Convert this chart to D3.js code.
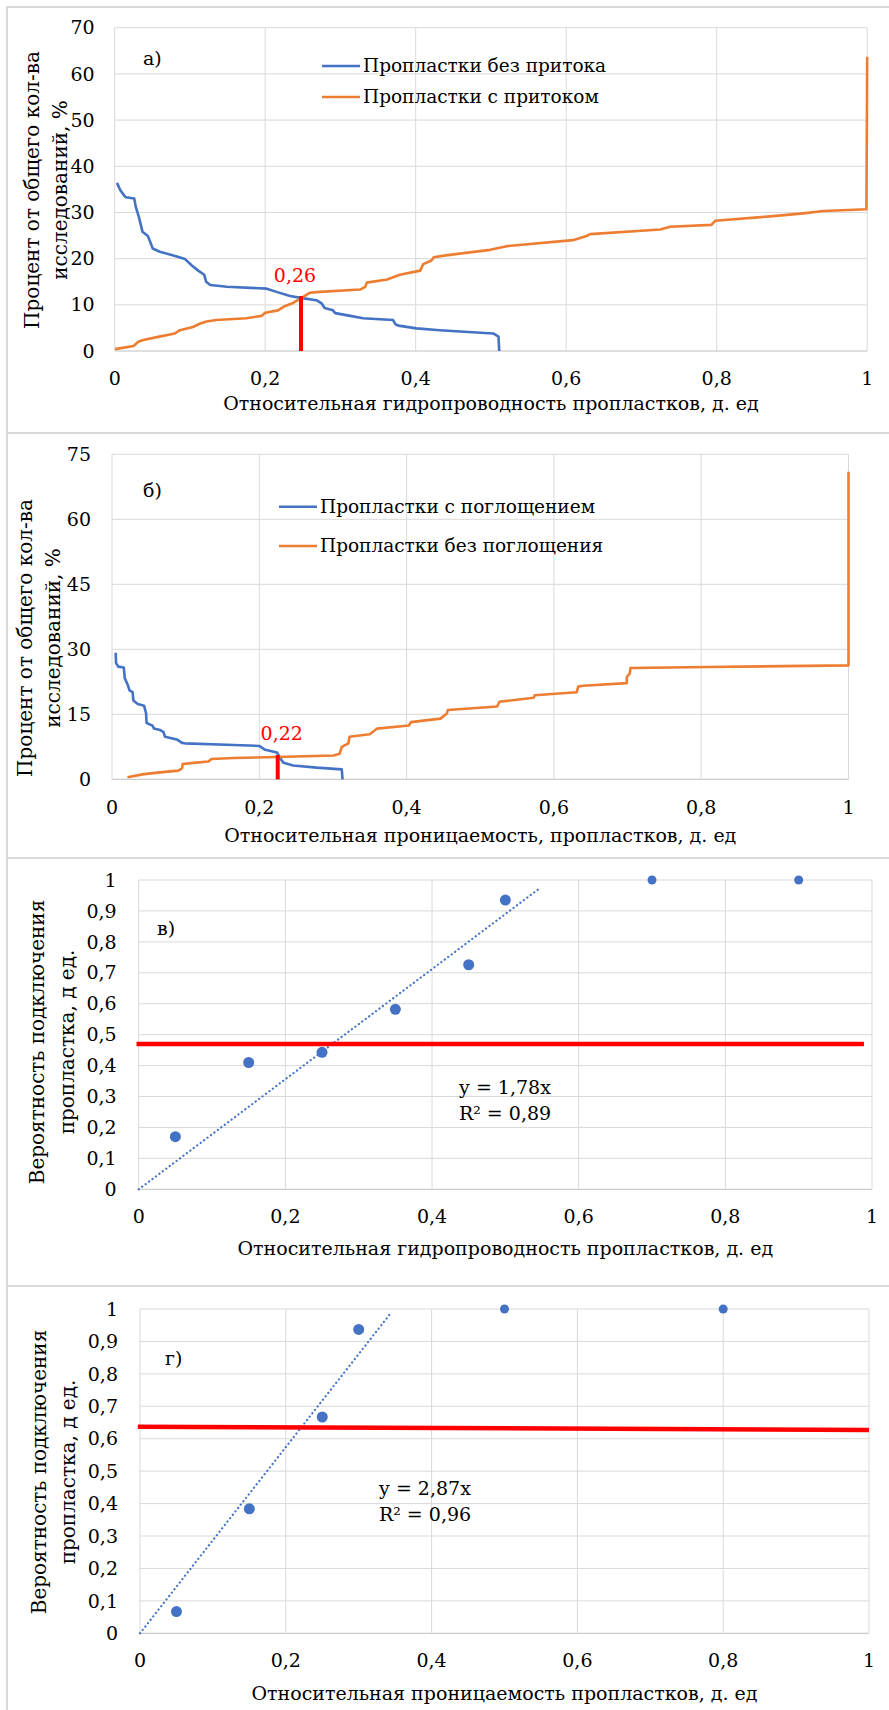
<!DOCTYPE html>
<html>
<head>
<meta charset="utf-8">
<script src="https://cdn.jsdelivr.net/npm/d3@7"></script>
<style>
  body { margin: 0; background: #fff; }
</style>
</head>
<body>
<svg id="chart" width="889" height="1710"></svg>
<script>
// ---- data ----
// panel а) : hydroconductivity distributions
const aNoFlowX = [0.003, 0.0075, 0.012, 0.0145, 0.026, 0.028, 0.032, 0.037, 0.044, 0.047, 0.0505, 0.060, 0.078, 0.0935, 0.1025, 0.111, 0.119, 0.1215, 0.127, 0.149, 0.202, 0.215, 0.233, 0.251, 0.268, 0.275, 0.279, 0.290, 0.293, 0.313, 0.330, 0.370, 0.373, 0.377, 0.401, 0.432, 0.503, 0.510, 0.511];
const aNoFlowY = [36.4, 34.8, 33.8, 33.3, 33.0, 31.2, 29.1, 25.8, 24.9, 23.7, 22.2, 21.5, 20.7, 19.9, 18.5, 17.4, 16.5, 15.0, 14.3, 13.9, 13.5, 12.8, 11.9, 11.4, 11.0, 10.3, 9.3, 8.8, 8.2, 7.6, 7.1, 6.7, 5.8, 5.5, 4.9, 4.5, 3.8, 3.1, 0];
const aFlowX = [0.0005, 0.025, 0.0315, 0.038, 0.056, 0.080, 0.0867, 0.104, 0.113, 0.122, 0.135, 0.175, 0.195, 0.200, 0.217, 0.226, 0.237, 0.2485, 0.259, 0.273, 0.326, 0.333, 0.335, 0.362, 0.379, 0.406, 0.410, 0.421, 0.424, 0.440, 0.499, 0.521, 0.609, 0.627, 0.632, 0.725, 0.738, 0.793, 0.798, 0.875, 0.915, 0.942, 0.999, 1.0];
const aFlowY = [0.4, 1.1, 2.0, 2.4, 3.0, 3.8, 4.5, 5.2, 5.9, 6.4, 6.7, 7.1, 7.6, 8.3, 8.8, 9.7, 10.4, 11.5, 12.6, 12.8, 13.3, 13.9, 14.8, 15.5, 16.5, 17.4, 18.8, 19.6, 20.3, 20.7, 21.9, 22.7, 24.0, 24.9, 25.3, 26.3, 26.9, 27.3, 28.2, 29.2, 29.8, 30.3, 30.7, 63.7];
const aCross = { x: 0.2476, y: 11.9, label: "0,26" };
const aYTicks = [0, 10, 20, 30, 40, 50, 60, 70];

// panel б) : permeability distributions
const bAbsX = [0.005, 0.0055, 0.0085, 0.016, 0.0174, 0.0216, 0.0238, 0.028, 0.029, 0.035, 0.0435, 0.0462, 0.047, 0.055, 0.057, 0.0652, 0.070, 0.072, 0.088, 0.095, 0.099, 0.165, 0.200, 0.208, 0.224, 0.228, 0.233, 0.246, 0.278, 0.312, 0.313];
const bAbsY = [29.2, 26.8, 26.0, 25.8, 23.3, 21.7, 20.5, 20.1, 18.2, 17.4, 17.0, 15.3, 13.0, 12.4, 11.7, 11.4, 10.9, 9.8, 9.2, 8.4, 8.3, 7.9, 7.7, 6.8, 6.2, 4.9, 3.8, 3.2, 2.7, 2.3, 0];
const bNoAbsX = [0.021, 0.0435, 0.0652, 0.090, 0.095, 0.096, 0.111, 0.131, 0.135, 0.165, 0.21, 0.301, 0.309, 0.312, 0.321, 0.3225, 0.350, 0.357, 0.360, 0.403, 0.406, 0.446, 0.4547, 0.456, 0.523, 0.526, 0.536, 0.5725, 0.574, 0.631, 0.633, 0.64, 0.699, 0.699, 0.703, 0.704, 0.808, 1.0, 1.0];
const bNoAbsY = [0.46, 1.2, 1.6, 2.0, 2.5, 3.5, 3.8, 4.1, 4.7, 4.9, 5.1, 5.5, 5.9, 7.5, 8.3, 9.8, 10.4, 11.3, 11.7, 12.4, 13.2, 14.0, 15.2, 16.0, 16.8, 17.9, 18.1, 18.8, 19.4, 20.1, 21.4, 21.6, 22.2, 23.6, 24.4, 25.7, 25.9, 26.3, 71.0];
const bCross = { x: 0.225, y: 5.6, label: "0,22" };
const bYTicks = [0, 15, 30, 45, 60, 75];

// panel в) : probability vs hydroconductivity
const vX = [0.05, 0.15, 0.25, 0.35, 0.45, 0.5, 0.7, 0.9];
const vY = [0.17, 0.41, 0.443, 0.582, 0.726, 0.935, 1, 1];
const vSlope = 1.78, vTrendEnd = 0.545;
const vLevel = [[-0.003, 0.47], [0.989, 0.47]];
const vEq = ["y = 1,78x", "R² = 0,89"];

// panel г) : probability vs permeability
const gX = [0.05, 0.15, 0.25, 0.3, 0.5, 0.8];
const gY = [0.067, 0.384, 0.667, 0.937, 1, 1];
const gSlope = 2.87, gTrendEnd = 0.345;
const gLevel = [[-0.003, 0.637], [1.0, 0.627]];
const gEq = ["y = 2,87x", "R² = 0,96"];

const xTicks = [0, 0.2, 0.4, 0.6, 0.8, 1];
const probTicks = [0, 0.1, 0.2, 0.3, 0.4, 0.5, 0.6, 0.7, 0.8, 0.9, 1];

const BLUE = "#4472C4", ORANGE = "#ED7D31", RED = "#FF0000", GRID = "#d9d9d9";
const FONT = "DejaVu Serif";
const fmt = d => String(d).replace(".", ",");

const svg = d3.select("#chart");

// panel frames
[[7, 433], [433, 858], [858, 1286], [1286, 1720]].forEach(([t, b]) => {
    svg.append("rect")
        .attr("x", 7).attr("y", t)
        .attr("width", 900).attr("height", b - t)
        .attr("fill", "none").attr("stroke", GRID).attr("stroke-width", 2);
});

function txt(g, size) {
    return g.append("text").attr("font-family", FONT).attr("font-size", size || 19).attr("fill", "#000");
}

// draws grid, ticks, titles; returns scales and group
function drawFrame(p) {
    const g = svg.append("g");
    const x = d3.scaleLinear().domain([0, 1]).range([p.left, p.right]);
    const y = d3.scaleLinear().domain([0, d3.max(p.yTicks)]).range([p.bottom, p.top]);

    g.selectAll(".hg").data(p.yTicks).enter().append("line")
        .attr("x1", p.left).attr("x2", p.right)
        .attr("y1", d => y(d)).attr("y2", d => y(d))
        .attr("stroke", d => d === 0 ? "#bfbfbf" : GRID).attr("stroke-width", 1);
    g.selectAll(".vg").data(xTicks).enter().append("line")
        .attr("x1", d => x(d)).attr("x2", d => x(d))
        .attr("y1", p.top).attr("y2", p.bottom)
        .attr("stroke", GRID).attr("stroke-width", 1);

    p.yTicks.forEach(d => {
        txt(g).attr("x", p.left - p.yGap).attr("y", y(d)).attr("dy", "0.35em")
            .attr("text-anchor", "end").text(fmt(d));
    });
    xTicks.forEach(d => {
        txt(g).attr("x", x(d)).attr("y", p.bottom + p.xGap).attr("dy", "0.35em")
            .attr("text-anchor", "middle").text(fmt(d));
    });

    txt(g).attr("x", (p.left + p.right) / 2).attr("y", p.xTitleY).attr("dy", "0.35em")
        .attr("text-anchor", "middle").text(p.xTitle);

    p.yTitle.forEach((t, i) => {
        txt(g, 20).attr("transform", `translate(${p.yTitleX[i]},${p.yTitleC}) rotate(-90)`)
            .attr("dy", "0.35em").attr("text-anchor", "middle").text(t);
    });

    txt(g).attr("x", p.tagX).attr("y", p.tagY).attr("dy", "0.35em").text(p.tag);

    return { g, x, y };
}

function linePanel(p) {
    const { g, x, y } = drawFrame(p);
    const line = d3.line().x(d => x(d[0])).y(d => y(d[1]));

    p.series.forEach(s => {
        g.append("path")
            .datum(d3.zip(s.x, s.y))
            .attr("d", line)
            .attr("fill", "none").attr("stroke", s.color)
            .attr("stroke-width", 2.6).attr("stroke-linejoin", "round");
    });

    // crossing marker
    g.append("line")
        .attr("x1", x(p.cross.x)).attr("x2", x(p.cross.x))
        .attr("y1", y(0)).attr("y2", y(p.cross.y))
        .attr("stroke", RED).attr("stroke-width", 4);
    txt(g).attr("x", x(p.cross.x) + p.crossDx).attr("y", y(p.cross.y) - p.crossDy)
        .attr("dy", "0.35em").attr("text-anchor", "middle")
        .attr("fill", RED).text(p.cross.label);

    // legend
    p.series.forEach((s, i) => {
        const ly = p.legY[i];
        g.append("line")
            .attr("x1", p.legX).attr("x2", p.legX + 38)
            .attr("y1", ly).attr("y2", ly)
            .attr("stroke", s.color).attr("stroke-width", 2.6);
        txt(g, 18.5).attr("x", p.legX + 41).attr("y", ly).attr("dy", "0.35em").text(s.name);
    });
}

function scatterPanel(p) {
    const { g, x, y } = drawFrame(p);

    // linear trend through origin
    g.append("line")
        .attr("x1", x(0)).attr("y1", y(0))
        .attr("x2", x(p.trendEnd)).attr("y2", y(p.slope * p.trendEnd))
        .attr("stroke", BLUE).attr("stroke-width", 2.2)
        .attr("stroke-linecap", "round").attr("stroke-dasharray", "0.1 4.2");

    g.append("line")
        .attr("x1", x(p.level[0][0])).attr("y1", y(p.level[0][1]))
        .attr("x2", x(p.level[1][0])).attr("y2", y(p.level[1][1]))
        .attr("stroke", RED).attr("stroke-width", 4.5);

    g.selectAll(".pt").data(d3.zip(p.px, p.py)).enter().append("circle")
        .attr("cx", d => x(d[0])).attr("cy", d => y(d[1]))
        .attr("r", d => d[1] >= 1 ? 4.5 : 5.5)
        .attr("fill", BLUE);

    p.eq.forEach((t, i) => {
        txt(g).attr("x", p.eqX).attr("y", p.eqY + i * 26.5).attr("dy", "0.35em")
            .attr("text-anchor", "middle").text(t);
    });
}

linePanel({
    left: 114.7, right: 867.2, top: 27.7, bottom: 351,
    yTicks: aYTicks, yGap: 20, xGap: 27,
    xTitle: "Относительная гидропроводность пропластков, д. ед", xTitleY: 403,
    yTitle: ["Процент от общего кол-ва", "исследований, %"], yTitleX: [32, 60], yTitleC: 190,
    tag: "а)", tagX: 143, tagY: 58,
    series: [
        { name: "Пропластки без притока", x: aNoFlowX, y: aNoFlowY, color: BLUE },
        { name: "Пропластки с притоком", x: aFlowX, y: aFlowY, color: ORANGE }
    ],
    cross: aCross, crossDx: -6, crossDy: 21,
    legX: 322, legY: [66, 97]
});

linePanel({
    left: 112, right: 848.5, top: 454.3, bottom: 779.3,
    yTicks: bYTicks, yGap: 21, xGap: 28,
    xTitle: "Относительная проницаемость, пропластков, д. ед", xTitleY: 835,
    yTitle: ["Процент от общего кол-ва", "исследований, %"], yTitleX: [25, 53], yTitleC: 638,
    tag: "б)", tagX: 143, tagY: 490,
    series: [
        { name: "Пропластки с поглощением", x: bAbsX, y: bAbsY, color: BLUE },
        { name: "Пропластки без поглощения", x: bNoAbsX, y: bNoAbsY, color: ORANGE }
    ],
    cross: bCross, crossDx: 4, crossDy: 22,
    legX: 279, legY: [506.7, 546]
});

scatterPanel({
    left: 138.7, right: 872, top: 880, bottom: 1189.3,
    yTicks: probTicks, yGap: 22, xGap: 27,
    xTitle: "Относительная гидропроводность пропластков, д. ед", xTitleY: 1248,
    yTitle: ["Вероятность подключения", "пропластка, д ед."], yTitleX: [37, 67], yTitleC: 1042,
    tag: "в)", tagX: 157, tagY: 928,
    px: vX, py: vY, slope: vSlope, trendEnd: vTrendEnd, level: vLevel,
    eq: vEq, eqX: 505, eqY: 1087
});

scatterPanel({
    left: 140, right: 869, top: 1309, bottom: 1633.3,
    yTicks: probTicks, yGap: 22, xGap: 27,
    xTitle: "Относительная проницаемость пропластков, д. ед", xTitleY: 1693,
    yTitle: ["Вероятность подключения", "пропластка, д ед."], yTitleX: [39, 68], yTitleC: 1472,
    tag: "г)", tagX: 165, tagY: 1358,
    px: gX, py: gY, slope: gSlope, trendEnd: gTrendEnd, level: gLevel,
    eq: gEq, eqX: 425, eqY: 1488
});
</script>
</body>
</html>
